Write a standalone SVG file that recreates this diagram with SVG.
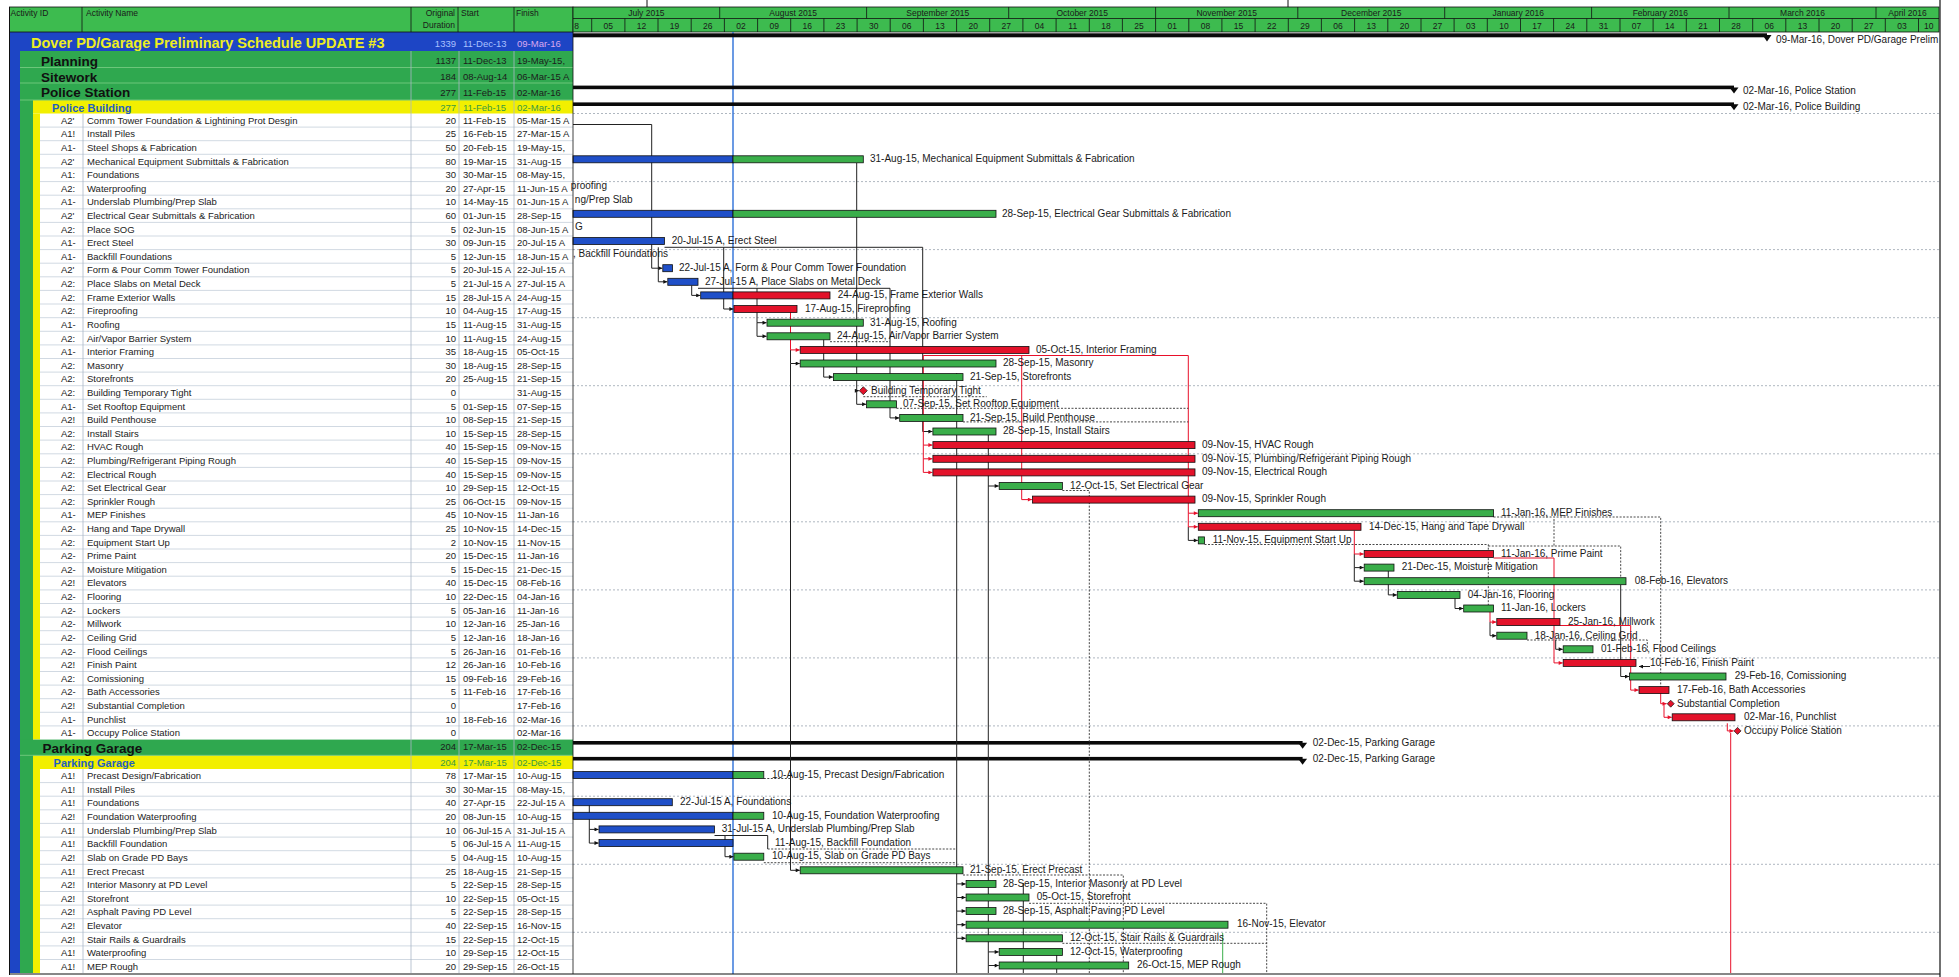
<svg xmlns="http://www.w3.org/2000/svg" width="1959" height="977" viewBox="0 0 1959 977">
<defs>
<style>
.tx{font-family:"Liberation Sans",Arial,Helvetica,sans-serif;font-size:9.5px;fill:#1c1c1c}
.r{text-anchor:end}
.m{text-anchor:middle}
.lb{font-family:"Liberation Sans",Arial,Helvetica,sans-serif;font-size:10px;fill:#1a1a1a}
.hd{font-family:"Liberation Sans",Arial,Helvetica,sans-serif;font-size:8.5px;fill:#1a1a1a}
.sum{font-family:"Liberation Sans",Arial,Helvetica,sans-serif;font-weight:bold;font-size:13.5px;fill:#111}
.sub{font-family:"Liberation Sans",Arial,Helvetica,sans-serif;font-weight:bold;font-size:11px;fill:#1f5fbf}
.yn{font-family:"Liberation Sans",Arial,Helvetica,sans-serif;font-size:9.5px;fill:#3a9a40}
.bb{fill:#1f4fc8;stroke:#101010;stroke-width:0.8}
.bg{fill:#3aae4a;stroke:#101010;stroke-width:0.8}
.br{fill:#e3122a;stroke:#101010;stroke-width:0.8}
.ms{fill:#e3122a;stroke:#101010;stroke-width:0.7}
.sb{fill:#0a0a0a}
.lk{fill:none;stroke:#222;stroke-width:1}
.lr{fill:none;stroke:#e8102a;stroke-width:1}
.ld{fill:none;stroke:#333;stroke-width:0.9;stroke-dasharray:2 1.5}
.grid{fill:none;stroke:#9aa4b0;stroke-width:0.8;stroke-dasharray:2 2}
.rl{fill:none;stroke:#c5cfdb;stroke-width:0.8}
.cl{fill:none;stroke:#aab6c6;stroke-width:0.8}
.hl{fill:none;stroke:#111;stroke-width:0.8}
</style>
<marker id="ah" viewBox="0 0 6 6" refX="6" refY="3" markerWidth="5" markerHeight="4" markerUnits="userSpaceOnUse" orient="auto"><path d="M0,0 L6,3 L0,6 z" fill="#111"/></marker>
<marker id="ahr" viewBox="0 0 6 6" refX="6" refY="3" markerWidth="5" markerHeight="4" markerUnits="userSpaceOnUse" orient="auto"><path d="M0,0 L6,3 L0,6 z" fill="#e8102a"/></marker>
</defs>
<rect x="0" y="0" width="1959" height="977" fill="#fff"/>

<!-- table background bands -->
<g id="table-bg">
<rect x="10" y="32" width="563" height="19" fill="#1d45c5"/>
<rect x="10" y="51" width="10" height="922" fill="#1d45c5"/>
<rect x="20" y="51" width="553" height="49" fill="#2fa84f"/>
<rect x="20" y="100" width="13" height="873" fill="#2fa84f"/>
<rect x="33" y="100" width="540" height="13.5" fill="#f2ef00"/>
<rect x="33" y="113.5" width="7" height="626" fill="#f2ef00"/>
<rect x="20" y="739.6" width="553" height="15.7" fill="#2fa84f"/>
<rect x="33" y="755.3" width="540" height="13.7" fill="#f2ef00"/>
<rect x="33" y="769" width="7" height="204" fill="#f2ef00"/>
<path d="M20,67.5H573M20,83H573M20,100H573M20,755.3H573" stroke="#6cc67a" stroke-width="1" fill="none"/>
<path class="rl" d="M40,127.1H573M40,140.7H573M40,154.3H573M40,167.9H573M40,181.6H573M40,195.2H573M40,208.8H573M40,222.4H573M40,236H573M40,249.6H573M40,263.2H573M40,276.8H573M40,290.4H573M40,304H573M40,317.7H573M40,331.3H573M40,344.9H573M40,358.5H573M40,372.1H573M40,385.7H573M40,399.3H573M40,412.9H573M40,426.5H573M40,440.1H573M40,453.8H573M40,467.4H573M40,481H573M40,494.6H573M40,508.2H573M40,521.8H573M40,535.4H573M40,549H573M40,562.6H573M40,576.2H573M40,589.9H573M40,603.5H573M40,617.1H573M40,630.7H573M40,644.3H573M40,657.9H573M40,671.5H573M40,685.1H573M40,698.7H573M40,712.3H573M40,725.9H573M40,782.6H573M40,796.2H573M40,809.8H573M40,823.4H573M40,837.1H573M40,850.7H573M40,864.3H573M40,877.9H573M40,891.5H573M40,905.1H573M40,918.7H573M40,932.3H573M40,945.9H573M40,959.5H573"/>
<path class="cl" d="M83,113.5V739.6M83,769V973M411,51V973M459,51V973M514,51V973"/>
</g>

<!-- table header -->
<g id="table-header">
<rect x="9.5" y="7" width="563.5" height="25" fill="#3dbb4f" stroke="#111" stroke-width="0.8"/>
<path class="hl" d="M82,7V32M411,7V32M458,7V32M514,7V32"/>
<text class="hd" x="10.5" y="15.5">Activity ID</text>
<text class="hd" x="86" y="15.5">Activity Name</text>
<text class="hd r" x="455" y="16">Original</text>
<text class="hd r" x="455" y="27.5">Duration</text>
<text class="hd" x="461" y="15.5">Start</text>
<text class="hd" x="516" y="15.5">Finish</text>
</g>

<!-- timeline header -->
<g id="timeline-header">
<rect x="573" y="7" width="1366" height="25" fill="#3dbb4f" stroke="#111" stroke-width="0.8"/>
<path class="hl" d="M573,18.5H1939M719.7,7V18.5M866.6,7V18.5M1008.7,7V18.5M1155.6,7V18.5M1297.8,7V18.5M1444.7,7V18.5M1591.6,7V18.5M1729,7V18.5M1876,7V18.5"/>
<path class="hl" d="M591.7,18.5V32M624.9,18.5V32M658,18.5V32M691.2,18.5V32M724.4,18.5V32M757.6,18.5V32M790.7,18.5V32M823.9,18.5V32M857.1,18.5V32M890.2,18.5V32M923.4,18.5V32M956.6,18.5V32M989.7,18.5V32M1022.9,18.5V32M1056.1,18.5V32M1089.3,18.5V32M1122.4,18.5V32M1155.6,18.5V32M1188.8,18.5V32M1221.9,18.5V32M1255.1,18.5V32M1288.3,18.5V32M1321.4,18.5V32M1354.6,18.5V32M1387.8,18.5V32M1421,18.5V32M1454.1,18.5V32M1487.3,18.5V32M1520.5,18.5V32M1553.6,18.5V32M1586.8,18.5V32M1620,18.5V32M1653.1,18.5V32M1686.3,18.5V32M1719.5,18.5V32M1752.7,18.5V32M1785.8,18.5V32M1819,18.5V32M1852.2,18.5V32M1885.3,18.5V32M1918.5,18.5V32"/>
<g class="hd m">
<text x="646.4" y="16">July 2015</text>
<text x="793.2" y="16">August 2015</text>
<text x="937.7" y="16">September 2015</text>
<text x="1082.2" y="16">October 2015</text>
<text x="1226.7" y="16">November 2015</text>
<text x="1371.3" y="16">December 2015</text>
<text x="1518.2" y="16">January 2016</text>
<text x="1660.3" y="16">February 2016</text>
<text x="1802.5" y="16">March 2016</text>
<text x="1907.5" y="16">April 2016</text>
</g>
<g class="hd m">
<text x="576.5" y="28.5">8</text>
<text x="608.3" y="28.5">05</text><text x="641.5" y="28.5">12</text><text x="674.6" y="28.5">19</text><text x="707.8" y="28.5">26</text>
<text x="741" y="28.5">02</text><text x="774.2" y="28.5">09</text><text x="807.3" y="28.5">16</text><text x="840.5" y="28.5">23</text><text x="873.7" y="28.5">30</text>
<text x="906.8" y="28.5">06</text><text x="940" y="28.5">13</text><text x="973.2" y="28.5">20</text><text x="1006.3" y="28.5">27</text>
<text x="1039.5" y="28.5">04</text><text x="1072.7" y="28.5">11</text><text x="1105.9" y="28.5">18</text><text x="1139" y="28.5">25</text>
<text x="1172.2" y="28.5">01</text><text x="1205.4" y="28.5">08</text><text x="1238.5" y="28.5">15</text><text x="1271.7" y="28.5">22</text><text x="1304.9" y="28.5">29</text>
<text x="1338" y="28.5">06</text><text x="1371.2" y="28.5">13</text><text x="1404.4" y="28.5">20</text><text x="1437.6" y="28.5">27</text>
<text x="1470.7" y="28.5">03</text><text x="1503.9" y="28.5">10</text><text x="1537.1" y="28.5">17</text><text x="1570.2" y="28.5">24</text><text x="1603.4" y="28.5">31</text>
<text x="1636.6" y="28.5">07</text><text x="1669.7" y="28.5">14</text><text x="1702.9" y="28.5">21</text><text x="1736.1" y="28.5">28</text>
<text x="1769.3" y="28.5">06</text><text x="1802.4" y="28.5">13</text><text x="1835.6" y="28.5">20</text><text x="1868.8" y="28.5">27</text>
<text x="1901.9" y="28.5">03</text><text x="1928.8" y="28.5">10</text>
</g>
</g>

<!-- chart gridlines and data date -->
<g id="chart-grid">
<path class="grid" d="M573,113.5H1939M573,181.6H1939M573,249.6H1939M573,317.7H1939M573,385.7H1939M573,453.8H1939M573,521.8H1939M573,589.9H1939M573,657.9H1939M573,725.9H1939M573,796.2H1939M573,864.3H1939M573,932.3H1939"/>
<line x1="733" y1="32" x2="733" y2="974" stroke="#2b6fd8" stroke-width="1.4"/>
</g>

<!-- summary rows -->
<g id="s-project">
<text x="31" y="48.3" font-family="Liberation Sans, Arial, sans-serif" font-weight="bold" font-size="14.5" fill="#eeee20">Dover PD/Garage Preliminary Schedule UPDATE #3</text>
<text class="tx r" x="456" y="46.5" style="fill:#a9c0ff">1339</text>
<text class="tx" x="463" y="46.5" style="fill:#a9c0ff">11-Dec-13</text>
<text class="tx" x="517" y="46.5" style="fill:#d9a8f0">09-Mar-16</text>
<rect class="sb" x="573" y="33.3" width="1194" height="4"/>
<polygon class="sb" points="1762.5,35 1771.5,35 1767,41.5"/>
<text class="lb" x="1776" y="43">09-Mar-16, Dover PD/Garage Prelim</text>
</g>
<g id="s-planning">
<text class="sum" x="41" y="65.8">Planning</text>
<text class="tx r" x="456" y="64.4">1137</text><text class="tx" x="463" y="64.4">11-Dec-13</text><text class="tx" x="517" y="64.4">19-May-15,</text>
</g>
<g id="s-sitework">
<text class="sum" x="41" y="81.5">Sitework</text>
<text class="tx r" x="456" y="80.4">184</text><text class="tx" x="463" y="80.4">08-Aug-14</text><text class="tx" x="517" y="80.4">06-Mar-15 A</text>
</g>
<g id="s-police-station">
<text class="sum" x="41" y="97.3">Police Station</text>
<text class="tx r" x="456" y="95.6">277</text><text class="tx" x="463" y="95.6">11-Feb-15</text><text class="tx" x="517" y="95.6">02-Mar-16</text>
<rect class="sb" x="573" y="85.6" width="1161" height="3.6"/>
<polygon class="sb" points="1729.5,87.5 1738.5,87.5 1734,93.5"/>
<text class="lb" x="1743" y="93.6">02-Mar-16, Police Station</text>
</g>
<g id="s-police-building">
<text class="sub" x="52" y="112">Police Building</text>
<text class="yn r" x="456" y="111.4">277</text><text class="yn" x="463" y="111.4">11-Feb-15</text><text class="yn" x="517" y="111.4">02-Mar-16</text>
<rect class="sb" x="573" y="102.4" width="1161" height="3.6"/>
<polygon class="sb" points="1729.5,104.2 1738.5,104.2 1734,110.2"/>
<text class="lb" x="1743" y="110.2">02-Mar-16, Police Building</text>
</g>
<g id="s-parking">
<text class="sum" x="42.5" y="753">Parking Garage</text>
<text class="tx r" x="456" y="749.6">204</text><text class="tx" x="463" y="749.6">17-Mar-15</text><text class="tx" x="517" y="749.6">02-Dec-15</text>
<rect class="sb" x="573" y="741" width="729.6" height="3.6"/>
<polygon class="sb" points="1298.1,742.8 1307.1,742.8 1302.6,748.8"/>
<text class="lb" x="1312.7" y="746.4">02-Dec-15, Parking Garage</text>
</g>
<g id="s-parking-sub">
<text class="sub" x="53.6" y="767.3">Parking Garage</text>
<text class="yn r" x="456" y="765.7">204</text><text class="yn" x="463" y="765.7">17-Mar-15</text><text class="yn" x="517" y="765.7">02-Dec-15</text>
<rect class="sb" x="573" y="756.9" width="729.6" height="3.6"/>
<polygon class="sb" points="1298.1,758.7 1307.1,758.7 1302.6,764.7"/>
<text class="lb" x="1312.7" y="762.4">02-Dec-15, Parking Garage</text>
</g>

<!-- connectors -->
<g id="connectors">
<g class="lk" marker-end="url(#ah)">
<path d="M573,124.5H651.7V268.2H662.3"/>
<path d="M658.3,247.3V281.8H667.3"/>
<path d="M664.5,247.3H922.7V431.5H932.4"/>
<path d="M723.7,247.3V309H733.4"/>
<path d="M691.7,285.5V295.4H700.2"/>
<path d="M698,288.3H890V417.9H899.2"/>
<path d="M757,288.3V322.7H766.5"/>
<path d="M757,322.7V336.3H766.5"/>
<path d="M790.5,349.9V363.5H799.7"/>
<path d="M790.5,363.5V870.3H799.7"/>
<path d="M823.7,339.5V377.1H832.9"/>
<path d="M856.7,163V390.7H858.8"/>
<path d="M856.7,390.7V404.3H866.1"/>
<path d="M956.7,373V883.9H965.6"/>
<path d="M956.7,883.9V897.5H965.6"/>
<path d="M956.7,897.5V911.1H965.6"/>
<path d="M956.7,911.1V924.7H965.6"/>
<path d="M956.7,924.7V938.3H965.6"/>
<path d="M988.3,435V486H998.7"/>
<path d="M988.3,486V951.9H998.7"/>
<path d="M988.3,951.9V965.5H998.7"/>
<path d="M1188.3,526.8V540.4H1197.8"/>
<path d="M1354.3,554V567.6H1363.7"/>
<path d="M1354.3,567.6V581.2H1363.7"/>
<path d="M1388.3,571V594.9H1396.8"/>
<path d="M1455,598.5V608.5H1463.2"/>
<path d="M1490,622.1V635.7H1496.3"/>
<path d="M1555.7,640V649.3H1562.7"/>
<path d="M1620.7,584.7V676.5H1629"/>
<path d="M1650,666.5H1639"/>
<path d="M589.3,805V829.4H598.5"/>
<path d="M589.3,829.4V843.1H598.5"/>
<path d="M714.5,835.5H725V856.7H733.4"/>
</g>
<path class="lk" d="M956.7,938.3V973M988.3,965.5V973M1023.3,883V973M1056.7,950V973M725,835.5H767.7V849"/>
<g class="lr" marker-end="url(#ahr)">
<path d="M790.5,311V349.9H799.7"/>
<path d="M923.3,355.5V445.1H932.4"/>
<path d="M923.3,445.1V458.8H932.4"/>
<path d="M923.3,458.8V472.4H932.4"/>
<path d="M1021.7,355.5V499.6H1031.9"/>
<path d="M1188.3,355.5V513.2H1197.8"/>
<path d="M1188.3,513.2V526.8H1197.8"/>
<path d="M1354.3,530.5V554H1363.7"/>
<path d="M1490,612V622.1H1496.3"/>
<path d="M1493.6,558H1554V662.9H1562.7"/>
<path d="M1560,625.5H1630.7V690.1H1638.5"/>
<path d="M1660.7,692V703.7H1666.5"/>
<path d="M1664,705V717.3H1671.7"/>
<path d="M1727.3,723.3V730.9H1733.5"/>
</g>
<path class="lr" d="M923.3,355.5H1188.3M1730.7,733V973"/>
<path d="M1222.7,933V973" stroke="#3aae4a" stroke-width="1" fill="none"/>
<path class="ld" d="M1062.4,490.5H1089.3V973M963,875H1123.3V973M1029,903.3H1266.7V973M1062.4,943.3H1266.7M1204.5,544.5H1488.3V610M1493.6,517H1660.7V692M1527,640H1647.3V652M1554,519V546M1488.3,546H1620.7V584.7M896.5,408.3H1188.3M963,421.9H1188.3M830,341.7H890M863.3,396.7H986.7M767.7,849H956.7M763.8,862.7H956.7M763.8,778.5H790.5"/>
</g>

<!-- Police Building activities -->
<g id="pb-00" transform="translate(0,113.5)"><text class="tx" x="61" y="10.3">A2'</text><text class="tx" x="87" y="10.3">Comm Tower Foundation &amp; Lightining Prot Desgin</text><text class="tx r" x="456" y="10.3">20</text><text class="tx" x="463" y="10.3">11-Feb-15</text><text class="tx" x="517" y="10.3">05-Mar-15 A</text></g>
<g id="pb-01" transform="translate(0,127.1)"><text class="tx" x="61" y="10.3">A1!</text><text class="tx" x="87" y="10.3">Install Piles</text><text class="tx r" x="456" y="10.3">25</text><text class="tx" x="463" y="10.3">16-Feb-15</text><text class="tx" x="517" y="10.3">27-Mar-15 A</text></g>
<g id="pb-02" transform="translate(0,140.7)"><text class="tx" x="61" y="10.3">A1-</text><text class="tx" x="87" y="10.3">Steel Shops &amp; Fabrication</text><text class="tx r" x="456" y="10.3">50</text><text class="tx" x="463" y="10.3">20-Feb-15</text><text class="tx" x="517" y="10.3">19-May-15,</text></g>
<g id="pb-03" transform="translate(0,154.3)"><text class="tx" x="61" y="10.3">A2'</text><text class="tx" x="87" y="10.3">Mechanical Equipment Submittals &amp; Fabrication</text><text class="tx r" x="456" y="10.3">80</text><text class="tx" x="463" y="10.3">19-Mar-15</text><text class="tx" x="517" y="10.3">31-Aug-15</text>
<rect class="bb" x="573" y="1.5" width="160" height="7"/><rect class="bg" x="733" y="1.5" width="130.3" height="7"/><text class="lb" x="870" y="7.8">31-Aug-15, Mechanical Equipment Submittals &amp; Fabrication</text></g>
<g id="pb-04" transform="translate(0,167.9)"><text class="tx" x="61" y="10.3">A1:</text><text class="tx" x="87" y="10.3">Foundations</text><text class="tx r" x="456" y="10.3">30</text><text class="tx" x="463" y="10.3">30-Mar-15</text><text class="tx" x="517" y="10.3">08-May-15,</text></g>
<g id="pb-05" transform="translate(0,181.6)"><text class="tx" x="61" y="10.3">A2:</text><text class="tx" x="87" y="10.3">Waterproofing</text><text class="tx r" x="456" y="10.3">20</text><text class="tx" x="463" y="10.3">27-Apr-15</text><text class="tx" x="517" y="10.3">11-Jun-15 A</text><text class="lb r" x="607" y="7.8">proofing</text></g>
<g id="pb-06" transform="translate(0,195.2)"><text class="tx" x="61" y="10.3">A1-</text><text class="tx" x="87" y="10.3">Underslab Plumbing/Prep Slab</text><text class="tx r" x="456" y="10.3">10</text><text class="tx" x="463" y="10.3">14-May-15</text><text class="tx" x="517" y="10.3">01-Jun-15 A</text><text class="lb r" x="632.7" y="7.8">ng/Prep Slab</text></g>
<g id="pb-07" transform="translate(0,208.8)"><text class="tx" x="61" y="10.3">A2'</text><text class="tx" x="87" y="10.3">Electrical Gear Submittals &amp; Fabrication</text><text class="tx r" x="456" y="10.3">60</text><text class="tx" x="463" y="10.3">01-Jun-15</text><text class="tx" x="517" y="10.3">28-Sep-15</text>
<rect class="bb" x="573" y="1.5" width="160" height="7"/><rect class="bg" x="733" y="1.5" width="263" height="7"/><text class="lb" x="1002" y="7.8">28-Sep-15, Electrical Gear Submittals &amp; Fabrication</text></g>
<g id="pb-08" transform="translate(0,222.4)"><text class="tx" x="61" y="10.3">A2:</text><text class="tx" x="87" y="10.3">Place SOG</text><text class="tx r" x="456" y="10.3">5</text><text class="tx" x="463" y="10.3">02-Jun-15</text><text class="tx" x="517" y="10.3">08-Jun-15 A</text><text class="lb r" x="582.7" y="7.8">G</text></g>
<g id="pb-09" transform="translate(0,236)"><text class="tx" x="61" y="10.3">A1-</text><text class="tx" x="87" y="10.3">Erect Steel</text><text class="tx r" x="456" y="10.3">30</text><text class="tx" x="463" y="10.3">09-Jun-15</text><text class="tx" x="517" y="10.3">20-Jul-15 A</text>
<rect class="bb" x="573" y="1.5" width="91.5" height="7"/><text class="lb" x="671.7" y="7.8">20-Jul-15 A, Erect Steel</text></g>
<g id="pb-10" transform="translate(0,249.6)"><text class="tx" x="61" y="10.3">A1-</text><text class="tx" x="87" y="10.3">Backfill Foundations</text><text class="tx r" x="456" y="10.3">5</text><text class="tx" x="463" y="10.3">12-Jun-15</text><text class="tx" x="517" y="10.3">18-Jun-15 A</text><text class="lb r" x="668" y="7.8">, Backfill Foundations</text></g>
<g id="pb-11" transform="translate(0,263.2)"><text class="tx" x="61" y="10.3">A2'</text><text class="tx" x="87" y="10.3">Form &amp; Pour Comm Tower Foundation</text><text class="tx r" x="456" y="10.3">5</text><text class="tx" x="463" y="10.3">20-Jul-15 A</text><text class="tx" x="517" y="10.3">22-Jul-15 A</text>
<rect class="bb" x="662.8" y="1.5" width="9.7" height="7"/><text class="lb" x="679" y="7.8">22-Jul-15 A, Form &amp; Pour Comm Tower Foundation</text></g>
<g id="pb-12" transform="translate(0,276.8)"><text class="tx" x="61" y="10.3">A2:</text><text class="tx" x="87" y="10.3">Place Slabs on Metal Deck</text><text class="tx r" x="456" y="10.3">5</text><text class="tx" x="463" y="10.3">21-Jul-15 A</text><text class="tx" x="517" y="10.3">27-Jul-15 A</text>
<rect class="bb" x="667.8" y="1.5" width="30.2" height="7"/><text class="lb" x="705" y="7.8">27-Jul-15 A, Place Slabs on Metal Deck</text></g>
<g id="pb-13" transform="translate(0,290.4)"><text class="tx" x="61" y="10.3">A2:</text><text class="tx" x="87" y="10.3">Frame Exterior Walls</text><text class="tx r" x="456" y="10.3">15</text><text class="tx" x="463" y="10.3">28-Jul-15 A</text><text class="tx" x="517" y="10.3">24-Aug-15</text>
<rect class="bb" x="700.7" y="1.5" width="32.3" height="7"/><rect class="br" x="733" y="1.5" width="97" height="7"/><text class="lb" x="837.7" y="7.8">24-Aug-15, Frame Exterior Walls</text></g>
<g id="pb-14" transform="translate(0,304)"><text class="tx" x="61" y="10.3">A2:</text><text class="tx" x="87" y="10.3">Fireproofing</text><text class="tx r" x="456" y="10.3">10</text><text class="tx" x="463" y="10.3">04-Aug-15</text><text class="tx" x="517" y="10.3">17-Aug-15</text>
<rect class="br" x="733.9" y="1.5" width="63.1" height="7"/><text class="lb" x="805" y="7.8">17-Aug-15, Fireproofing</text></g>
<g id="pb-15" transform="translate(0,317.7)"><text class="tx" x="61" y="10.3">A1-</text><text class="tx" x="87" y="10.3">Roofing</text><text class="tx r" x="456" y="10.3">15</text><text class="tx" x="463" y="10.3">11-Aug-15</text><text class="tx" x="517" y="10.3">31-Aug-15</text>
<rect class="bg" x="767" y="1.5" width="96.3" height="7"/><text class="lb" x="870" y="7.8">31-Aug-15, Roofing</text></g>
<g id="pb-16" transform="translate(0,331.3)"><text class="tx" x="61" y="10.3">A2:</text><text class="tx" x="87" y="10.3">Air/Vapor Barrier System</text><text class="tx r" x="456" y="10.3">10</text><text class="tx" x="463" y="10.3">11-Aug-15</text><text class="tx" x="517" y="10.3">24-Aug-15</text>
<rect class="bg" x="767" y="1.5" width="63" height="7"/><text class="lb" x="837" y="7.8">24-Aug-15, Air/Vapor Barrier System</text></g>
<g id="pb-17" transform="translate(0,344.9)"><text class="tx" x="61" y="10.3">A1-</text><text class="tx" x="87" y="10.3">Interior Framing</text><text class="tx r" x="456" y="10.3">35</text><text class="tx" x="463" y="10.3">18-Aug-15</text><text class="tx" x="517" y="10.3">05-Oct-15</text>
<rect class="br" x="800.2" y="1.5" width="228.8" height="7"/><text class="lb" x="1036" y="7.8">05-Oct-15, Interior Framing</text></g>
<g id="pb-18" transform="translate(0,358.5)"><text class="tx" x="61" y="10.3">A2:</text><text class="tx" x="87" y="10.3">Masonry</text><text class="tx r" x="456" y="10.3">30</text><text class="tx" x="463" y="10.3">18-Aug-15</text><text class="tx" x="517" y="10.3">28-Sep-15</text>
<rect class="bg" x="800.2" y="1.5" width="195.8" height="7"/><text class="lb" x="1003" y="7.8">28-Sep-15, Masonry</text></g>
<g id="pb-19" transform="translate(0,372.1)"><text class="tx" x="61" y="10.3">A2:</text><text class="tx" x="87" y="10.3">Storefronts</text><text class="tx r" x="456" y="10.3">20</text><text class="tx" x="463" y="10.3">25-Aug-15</text><text class="tx" x="517" y="10.3">21-Sep-15</text>
<rect class="bg" x="833.4" y="1.5" width="129.6" height="7"/><text class="lb" x="970" y="7.8">21-Sep-15, Storefronts</text></g>
<g id="pb-20" transform="translate(0,385.7)"><text class="tx" x="61" y="10.3">A2:</text><text class="tx" x="87" y="10.3">Building Temporary Tight</text><text class="tx r" x="456" y="10.3">0</text><text class="tx" x="517" y="10.3">31-Aug-15</text>
<polygon class="ms" points="863.3,1 867.3,5 863.3,9 859.3,5"/><text class="lb" x="871" y="7.8">Building Temporary Tight</text></g>
<g id="pb-21" transform="translate(0,399.3)"><text class="tx" x="61" y="10.3">A1-</text><text class="tx" x="87" y="10.3">Set Rooftop Equipment</text><text class="tx r" x="456" y="10.3">5</text><text class="tx" x="463" y="10.3">01-Sep-15</text><text class="tx" x="517" y="10.3">07-Sep-15</text>
<rect class="bg" x="866.6" y="1.5" width="29.9" height="7"/><text class="lb" x="903" y="7.8">07-Sep-15, Set Rooftop Equipment</text></g>
<g id="pb-22" transform="translate(0,412.9)"><text class="tx" x="61" y="10.3">A2!</text><text class="tx" x="87" y="10.3">Build Penthouse</text><text class="tx r" x="456" y="10.3">10</text><text class="tx" x="463" y="10.3">08-Sep-15</text><text class="tx" x="517" y="10.3">21-Sep-15</text>
<rect class="bg" x="899.7" y="1.5" width="63.3" height="7"/><text class="lb" x="970" y="7.8">21-Sep-15, Build Penthouse</text></g>
<g id="pb-23" transform="translate(0,426.5)"><text class="tx" x="61" y="10.3">A2:</text><text class="tx" x="87" y="10.3">Install Stairs</text><text class="tx r" x="456" y="10.3">10</text><text class="tx" x="463" y="10.3">15-Sep-15</text><text class="tx" x="517" y="10.3">28-Sep-15</text>
<rect class="bg" x="932.9" y="1.5" width="63.1" height="7"/><text class="lb" x="1003" y="7.8">28-Sep-15, Install Stairs</text></g>
<g id="pb-24" transform="translate(0,440.1)"><text class="tx" x="61" y="10.3">A2:</text><text class="tx" x="87" y="10.3">HVAC Rough</text><text class="tx r" x="456" y="10.3">40</text><text class="tx" x="463" y="10.3">15-Sep-15</text><text class="tx" x="517" y="10.3">09-Nov-15</text>
<rect class="br" x="932.9" y="1.5" width="262.1" height="7"/><text class="lb" x="1202" y="7.8">09-Nov-15, HVAC Rough</text></g>
<g id="pb-25" transform="translate(0,453.8)"><text class="tx" x="61" y="10.3">A2:</text><text class="tx" x="87" y="10.3">Plumbing/Refrigerant Piping Rough</text><text class="tx r" x="456" y="10.3">40</text><text class="tx" x="463" y="10.3">15-Sep-15</text><text class="tx" x="517" y="10.3">09-Nov-15</text>
<rect class="br" x="932.9" y="1.5" width="262.1" height="7"/><text class="lb" x="1202" y="7.8">09-Nov-15, Plumbing/Refrigerant Piping Rough</text></g>
<g id="pb-26" transform="translate(0,467.4)"><text class="tx" x="61" y="10.3">A2:</text><text class="tx" x="87" y="10.3">Electrical Rough</text><text class="tx r" x="456" y="10.3">40</text><text class="tx" x="463" y="10.3">15-Sep-15</text><text class="tx" x="517" y="10.3">09-Nov-15</text>
<rect class="br" x="932.9" y="1.5" width="262.1" height="7"/><text class="lb" x="1202" y="7.8">09-Nov-15, Electrical Rough</text></g>
<g id="pb-27" transform="translate(0,481)"><text class="tx" x="61" y="10.3">A2:</text><text class="tx" x="87" y="10.3">Set Electrical Gear</text><text class="tx r" x="456" y="10.3">10</text><text class="tx" x="463" y="10.3">29-Sep-15</text><text class="tx" x="517" y="10.3">12-Oct-15</text>
<rect class="bg" x="999.2" y="1.5" width="63.2" height="7"/><text class="lb" x="1070" y="7.8">12-Oct-15, Set Electrical Gear</text></g>
<g id="pb-28" transform="translate(0,494.6)"><text class="tx" x="61" y="10.3">A2:</text><text class="tx" x="87" y="10.3">Sprinkler Rough</text><text class="tx r" x="456" y="10.3">25</text><text class="tx" x="463" y="10.3">06-Oct-15</text><text class="tx" x="517" y="10.3">09-Nov-15</text>
<rect class="br" x="1032.4" y="1.5" width="162.6" height="7"/><text class="lb" x="1202" y="7.8">09-Nov-15, Sprinkler Rough</text></g>
<g id="pb-29" transform="translate(0,508.2)"><text class="tx" x="61" y="10.3">A1-</text><text class="tx" x="87" y="10.3">MEP Finishes</text><text class="tx r" x="456" y="10.3">45</text><text class="tx" x="463" y="10.3">10-Nov-15</text><text class="tx" x="517" y="10.3">11-Jan-16</text>
<rect class="bg" x="1198.3" y="1.5" width="295.3" height="7"/><text class="lb" x="1501" y="7.8">11-Jan-16, MEP Finishes</text></g>
<g id="pb-30" transform="translate(0,521.8)"><text class="tx" x="61" y="10.3">A2-</text><text class="tx" x="87" y="10.3">Hang and Tape Drywall</text><text class="tx r" x="456" y="10.3">25</text><text class="tx" x="463" y="10.3">10-Nov-15</text><text class="tx" x="517" y="10.3">14-Dec-15</text>
<rect class="br" x="1198.3" y="1.5" width="162.7" height="7"/><text class="lb" x="1369" y="7.8">14-Dec-15, Hang and Tape Drywall</text></g>
<g id="pb-31" transform="translate(0,535.4)"><text class="tx" x="61" y="10.3">A2:</text><text class="tx" x="87" y="10.3">Equipment Start Up</text><text class="tx r" x="456" y="10.3">2</text><text class="tx" x="463" y="10.3">10-Nov-15</text><text class="tx" x="517" y="10.3">11-Nov-15</text>
<rect class="bg" x="1198.3" y="1.5" width="6.2" height="7"/><text class="lb" x="1212.7" y="7.8">11-Nov-15, Equipment Start Up</text></g>
<g id="pb-32" transform="translate(0,549)"><text class="tx" x="61" y="10.3">A2-</text><text class="tx" x="87" y="10.3">Prime Paint</text><text class="tx r" x="456" y="10.3">20</text><text class="tx" x="463" y="10.3">15-Dec-15</text><text class="tx" x="517" y="10.3">11-Jan-16</text>
<rect class="br" x="1364.2" y="1.5" width="129.4" height="7"/><text class="lb" x="1501" y="7.8">11-Jan-16, Prime Paint</text></g>
<g id="pb-33" transform="translate(0,562.6)"><text class="tx" x="61" y="10.3">A2-</text><text class="tx" x="87" y="10.3">Moisture Mitigation</text><text class="tx r" x="456" y="10.3">5</text><text class="tx" x="463" y="10.3">15-Dec-15</text><text class="tx" x="517" y="10.3">21-Dec-15</text>
<rect class="bg" x="1364.2" y="1.5" width="29.8" height="7"/><text class="lb" x="1401.7" y="7.8">21-Dec-15, Moisture Mitigation</text></g>
<g id="pb-34" transform="translate(0,576.2)"><text class="tx" x="61" y="10.3">A2!</text><text class="tx" x="87" y="10.3">Elevators</text><text class="tx r" x="456" y="10.3">40</text><text class="tx" x="463" y="10.3">15-Dec-15</text><text class="tx" x="517" y="10.3">08-Feb-16</text>
<rect class="bg" x="1364.2" y="1.5" width="261.8" height="7"/><text class="lb" x="1634.7" y="7.8">08-Feb-16, Elevators</text></g>
<g id="pb-35" transform="translate(0,589.9)"><text class="tx" x="61" y="10.3">A2-</text><text class="tx" x="87" y="10.3">Flooring</text><text class="tx r" x="456" y="10.3">10</text><text class="tx" x="463" y="10.3">22-Dec-15</text><text class="tx" x="517" y="10.3">04-Jan-16</text>
<rect class="bg" x="1397.3" y="1.5" width="62.7" height="7"/><text class="lb" x="1467.7" y="7.8">04-Jan-16, Flooring</text></g>
<g id="pb-36" transform="translate(0,603.5)"><text class="tx" x="61" y="10.3">A2-</text><text class="tx" x="87" y="10.3">Lockers</text><text class="tx r" x="456" y="10.3">5</text><text class="tx" x="463" y="10.3">05-Jan-16</text><text class="tx" x="517" y="10.3">11-Jan-16</text>
<rect class="bg" x="1463.7" y="1.5" width="29.9" height="7"/><text class="lb" x="1501" y="7.8">11-Jan-16, Lockers</text></g>
<g id="pb-37" transform="translate(0,617.1)"><text class="tx" x="61" y="10.3">A2-</text><text class="tx" x="87" y="10.3">Millwork</text><text class="tx r" x="456" y="10.3">10</text><text class="tx" x="463" y="10.3">12-Jan-16</text><text class="tx" x="517" y="10.3">25-Jan-16</text>
<rect class="br" x="1496.8" y="1.5" width="63.2" height="7"/><text class="lb" x="1568" y="7.8">25-Jan-16, Millwork</text></g>
<g id="pb-38" transform="translate(0,630.7)"><text class="tx" x="61" y="10.3">A2-</text><text class="tx" x="87" y="10.3">Ceiling Grid</text><text class="tx r" x="456" y="10.3">5</text><text class="tx" x="463" y="10.3">12-Jan-16</text><text class="tx" x="517" y="10.3">18-Jan-16</text>
<rect class="bg" x="1496.8" y="1.5" width="30.2" height="7"/><text class="lb" x="1534.7" y="7.8">18-Jan-16, Ceiling Grid</text></g>
<g id="pb-39" transform="translate(0,644.3)"><text class="tx" x="61" y="10.3">A2-</text><text class="tx" x="87" y="10.3">Flood Ceilings</text><text class="tx r" x="456" y="10.3">5</text><text class="tx" x="463" y="10.3">26-Jan-16</text><text class="tx" x="517" y="10.3">01-Feb-16</text>
<rect class="bg" x="1563.2" y="1.5" width="29.8" height="7"/><text class="lb" x="1601" y="7.8">01-Feb-16, Flood Ceilings</text></g>
<g id="pb-40" transform="translate(0,657.9)"><text class="tx" x="61" y="10.3">A2!</text><text class="tx" x="87" y="10.3">Finish Paint</text><text class="tx r" x="456" y="10.3">12</text><text class="tx" x="463" y="10.3">26-Jan-16</text><text class="tx" x="517" y="10.3">10-Feb-16</text>
<rect class="br" x="1563.2" y="1.5" width="72.8" height="7"/><text class="lb" x="1650" y="7.8">10-Feb-16, Finish Paint</text></g>
<g id="pb-41" transform="translate(0,671.5)"><text class="tx" x="61" y="10.3">A2:</text><text class="tx" x="87" y="10.3">Comissioning</text><text class="tx r" x="456" y="10.3">15</text><text class="tx" x="463" y="10.3">09-Feb-16</text><text class="tx" x="517" y="10.3">29-Feb-16</text>
<rect class="bg" x="1629.5" y="1.5" width="96.5" height="7"/><text class="lb" x="1734.7" y="7.8">29-Feb-16, Comissioning</text></g>
<g id="pb-42" transform="translate(0,685.1)"><text class="tx" x="61" y="10.3">A2-</text><text class="tx" x="87" y="10.3">Bath Accessories</text><text class="tx r" x="456" y="10.3">5</text><text class="tx" x="463" y="10.3">11-Feb-16</text><text class="tx" x="517" y="10.3">17-Feb-16</text>
<rect class="br" x="1639" y="1.5" width="30" height="7"/><text class="lb" x="1677" y="7.8">17-Feb-16, Bath Accessories</text></g>
<g id="pb-43" transform="translate(0,698.7)"><text class="tx" x="61" y="10.3">A2!</text><text class="tx" x="87" y="10.3">Substantial Completion</text><text class="tx r" x="456" y="10.3">0</text><text class="tx" x="517" y="10.3">17-Feb-16</text>
<polygon class="ms" points="1670.7,1.5 1674.2,5 1670.7,8.5 1667.2,5"/><text class="lb" x="1677" y="7.8">Substantial Completion</text></g>
<g id="pb-44" transform="translate(0,712.3)"><text class="tx" x="61" y="10.3">A1-</text><text class="tx" x="87" y="10.3">Punchlist</text><text class="tx r" x="456" y="10.3">10</text><text class="tx" x="463" y="10.3">18-Feb-16</text><text class="tx" x="517" y="10.3">02-Mar-16</text>
<rect class="br" x="1672.2" y="1.5" width="62.8" height="7"/><text class="lb" x="1744" y="7.8">02-Mar-16, Punchlist</text></g>
<g id="pb-45" transform="translate(0,725.9)"><text class="tx" x="61" y="10.3">A1-</text><text class="tx" x="87" y="10.3">Occupy Police Station</text><text class="tx r" x="456" y="10.3">0</text><text class="tx" x="517" y="10.3">02-Mar-16</text>
<polygon class="ms" points="1737.5,1.5 1741,5 1737.5,8.5 1734,5"/><text class="lb" x="1744" y="7.8">Occupy Police Station</text></g>

<!-- Parking Garage activities -->
<g id="pg-00" transform="translate(0,769)"><text class="tx" x="61" y="10.3">A1!</text><text class="tx" x="87" y="10.3">Precast Design/Fabrication</text><text class="tx r" x="456" y="10.3">78</text><text class="tx" x="463" y="10.3">17-Mar-15</text><text class="tx" x="517" y="10.3">10-Aug-15</text>
<rect class="bb" x="573" y="2.5" width="160" height="7"/><rect class="bg" x="733" y="2.5" width="30.8" height="7"/><text class="lb" x="772" y="8.7">10-Aug-15, Precast Design/Fabrication</text></g>
<g id="pg-01" transform="translate(0,782.6)"><text class="tx" x="61" y="10.3">A1!</text><text class="tx" x="87" y="10.3">Install Piles</text><text class="tx r" x="456" y="10.3">30</text><text class="tx" x="463" y="10.3">30-Mar-15</text><text class="tx" x="517" y="10.3">08-May-15,</text></g>
<g id="pg-02" transform="translate(0,796.2)"><text class="tx" x="61" y="10.3">A1!</text><text class="tx" x="87" y="10.3">Foundations</text><text class="tx r" x="456" y="10.3">40</text><text class="tx" x="463" y="10.3">27-Apr-15</text><text class="tx" x="517" y="10.3">22-Jul-15 A</text>
<rect class="bb" x="573" y="2.5" width="99.3" height="7"/><text class="lb" x="680" y="8.7">22-Jul-15 A, Foundations</text></g>
<g id="pg-03" transform="translate(0,809.8)"><text class="tx" x="61" y="10.3">A2!</text><text class="tx" x="87" y="10.3">Foundation Waterproofing</text><text class="tx r" x="456" y="10.3">20</text><text class="tx" x="463" y="10.3">08-Jun-15</text><text class="tx" x="517" y="10.3">10-Aug-15</text>
<rect class="bb" x="573" y="2.5" width="160" height="7"/><rect class="bg" x="733" y="2.5" width="30.8" height="7"/><text class="lb" x="772" y="8.7">10-Aug-15, Foundation Waterproofing</text></g>
<g id="pg-04" transform="translate(0,823.4)"><text class="tx" x="61" y="10.3">A1!</text><text class="tx" x="87" y="10.3">Underslab Plumbing/Prep Slab</text><text class="tx r" x="456" y="10.3">10</text><text class="tx" x="463" y="10.3">06-Jul-15 A</text><text class="tx" x="517" y="10.3">31-Jul-15 A</text>
<rect class="bb" x="599" y="2.5" width="115.5" height="7"/><text class="lb" x="721.7" y="8.7">31-Jul-15 A, Underslab Plumbing/Prep Slab</text></g>
<g id="pg-05" transform="translate(0,837.1)"><text class="tx" x="61" y="10.3">A1!</text><text class="tx" x="87" y="10.3">Backfill Foundation</text><text class="tx r" x="456" y="10.3">5</text><text class="tx" x="463" y="10.3">06-Jul-15 A</text><text class="tx" x="517" y="10.3">11-Aug-15</text>
<rect class="bb" x="599" y="2.5" width="134" height="7"/><text class="lb" x="775" y="8.7">11-Aug-15, Backfill Foundation</text></g>
<g id="pg-06" transform="translate(0,850.7)"><text class="tx" x="61" y="10.3">A2!</text><text class="tx" x="87" y="10.3">Slab on Grade PD Bays</text><text class="tx r" x="456" y="10.3">5</text><text class="tx" x="463" y="10.3">04-Aug-15</text><text class="tx" x="517" y="10.3">10-Aug-15</text>
<rect class="bg" x="733.9" y="2.5" width="29.9" height="7"/><text class="lb" x="772" y="8.7">10-Aug-15, Slab on Grade PD Bays</text></g>
<g id="pg-07" transform="translate(0,864.3)"><text class="tx" x="61" y="10.3">A1!</text><text class="tx" x="87" y="10.3">Erect Precast</text><text class="tx r" x="456" y="10.3">25</text><text class="tx" x="463" y="10.3">18-Aug-15</text><text class="tx" x="517" y="10.3">21-Sep-15</text>
<rect class="bg" x="800.2" y="2.5" width="162.8" height="7"/><text class="lb" x="970" y="8.7">21-Sep-15, Erect Precast</text></g>
<g id="pg-08" transform="translate(0,877.9)"><text class="tx" x="61" y="10.3">A2!</text><text class="tx" x="87" y="10.3">Interior Masonry at PD Level</text><text class="tx r" x="456" y="10.3">5</text><text class="tx" x="463" y="10.3">22-Sep-15</text><text class="tx" x="517" y="10.3">28-Sep-15</text>
<rect class="bg" x="966.1" y="2.5" width="29.9" height="7"/><text class="lb" x="1003" y="8.7">28-Sep-15, Interior Masonry at PD Level</text></g>
<g id="pg-09" transform="translate(0,891.5)"><text class="tx" x="61" y="10.3">A2!</text><text class="tx" x="87" y="10.3">Storefront</text><text class="tx r" x="456" y="10.3">10</text><text class="tx" x="463" y="10.3">22-Sep-15</text><text class="tx" x="517" y="10.3">05-Oct-15</text>
<rect class="bg" x="966.1" y="2.5" width="62.9" height="7"/><text class="lb" x="1036.7" y="8.7">05-Oct-15, Storefront</text></g>
<g id="pg-10" transform="translate(0,905.1)"><text class="tx" x="61" y="10.3">A2!</text><text class="tx" x="87" y="10.3">Asphalt Paving PD Level</text><text class="tx r" x="456" y="10.3">5</text><text class="tx" x="463" y="10.3">22-Sep-15</text><text class="tx" x="517" y="10.3">28-Sep-15</text>
<rect class="bg" x="966.1" y="2.5" width="29.9" height="7"/><text class="lb" x="1003" y="8.7">28-Sep-15, Asphalt Paving PD Level</text></g>
<g id="pg-11" transform="translate(0,918.7)"><text class="tx" x="61" y="10.3">A2!</text><text class="tx" x="87" y="10.3">Elevator</text><text class="tx r" x="456" y="10.3">40</text><text class="tx" x="463" y="10.3">22-Sep-15</text><text class="tx" x="517" y="10.3">16-Nov-15</text>
<rect class="bg" x="966.1" y="2.5" width="261.9" height="7"/><text class="lb" x="1237" y="8.7">16-Nov-15, Elevator</text></g>
<g id="pg-12" transform="translate(0,932.3)"><text class="tx" x="61" y="10.3">A2!</text><text class="tx" x="87" y="10.3">Stair Rails &amp; Guardrails</text><text class="tx r" x="456" y="10.3">15</text><text class="tx" x="463" y="10.3">22-Sep-15</text><text class="tx" x="517" y="10.3">12-Oct-15</text>
<rect class="bg" x="966.1" y="2.5" width="96.3" height="7"/><text class="lb" x="1070" y="8.7">12-Oct-15, Stair Rails &amp; Guardrails</text></g>
<g id="pg-13" transform="translate(0,945.9)"><text class="tx" x="61" y="10.3">A1!</text><text class="tx" x="87" y="10.3">Waterproofing</text><text class="tx r" x="456" y="10.3">10</text><text class="tx" x="463" y="10.3">29-Sep-15</text><text class="tx" x="517" y="10.3">12-Oct-15</text>
<rect class="bg" x="999.2" y="2.5" width="63.2" height="7"/><text class="lb" x="1070" y="8.7">12-Oct-15, Waterproofing</text></g>
<g id="pg-14" transform="translate(0,959.5)"><text class="tx" x="61" y="10.3">A1!</text><text class="tx" x="87" y="10.3">MEP Rough</text><text class="tx r" x="456" y="10.3">20</text><text class="tx" x="463" y="10.3">29-Sep-15</text><text class="tx" x="517" y="10.3">26-Oct-15</text>
<rect class="bg" x="999.2" y="2.5" width="129.5" height="7"/><text class="lb" x="1137" y="8.7">26-Oct-15, MEP Rough</text></g>

<!-- frame -->
<g id="frame" fill="none" stroke="#111">
<path d="M9.5,7V975" stroke-width="1"/>
<path d="M573,32V974" stroke-width="0.8"/>
<path d="M9.5,974H1940" stroke-width="1.2"/>
<path d="M1940,0V977" stroke-width="1.2"/>
<path d="M647,0V7M1288,0V7" stroke-width="1"/>
</g>
</svg>
